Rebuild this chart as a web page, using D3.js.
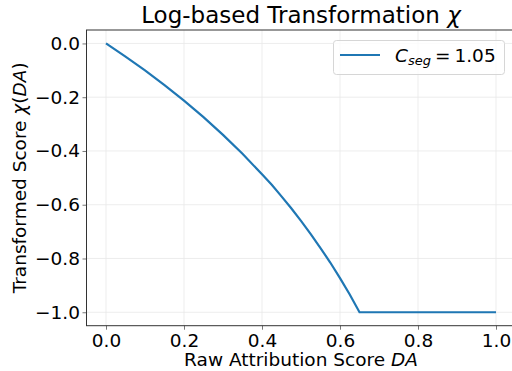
<!DOCTYPE html>
<html>
<head>
<meta charset="utf-8">
<script src="https://cdn.jsdelivr.net/npm/d3@7"></script>
<style>
  body { margin: 0; background: #fff; }
  text { font-family: "DejaVu Sans", sans-serif; fill: #000; }
</style>
</head>
<body>
<svg width="512" height="371"></svg>
<script>
// values
var rawScore = [0, 0.05, 0.1, 0.15, 0.2, 0.25, 0.3, 0.35, 0.4, 0.425, 0.45, 0.475, 0.5, 0.525, 0.55, 0.575, 0.6, 0.625, 0.65, 0.7, 0.8, 0.9, 1.0];
var transformed = [0, -0.049, -0.100, -0.155, -0.213, -0.274, -0.340, -0.410, -0.487, -0.526, -0.569, -0.613, -0.660, -0.709, -0.761, -0.815, -0.873, -0.934, -1.0, -1.0, -1.0, -1.0, -1.0];
var xTicks = [0.0, 0.2, 0.4, 0.6, 0.8, 1.0];
var yTicks = [0.0, -0.2, -0.4, -0.6, -0.8, -1.0];
var legendLabel = "C_seg = 1.05";

var svg = d3.select("svg");
var pLeft = 86.5, pRight = 515.5, pTop = 30, pBottom = 325.7;
var fs = 18.5;

var x = d3.scaleLinear().domain([-0.05, 1.05]).range([pLeft, pRight]);
var y = d3.scaleLinear().domain([-1.05, 0.05]).range([pBottom, pTop]);

var fmt = function(d) { return d3.format(".1f")(d).replace("-", "\u2212"); };

// grid
var grid = svg.append("g");
grid.selectAll(".gx").data(xTicks).enter().append("line")
    .attr("x1", function(d) { return x(d); }).attr("x2", function(d) { return x(d); })
    .attr("y1", pTop).attr("y2", pBottom)
    .attr("stroke", "#e8e8e8").attr("stroke-width", 0.8);
grid.selectAll(".gy").data(yTicks).enter().append("line")
    .attr("y1", function(d) { return y(d); }).attr("y2", function(d) { return y(d); })
    .attr("x1", pLeft).attr("x2", pRight)
    .attr("stroke", "#e8e8e8").attr("stroke-width", 0.8);

// axes
var xAxis = svg.append("g")
    .attr("transform", "translate(0," + pBottom + ")")
    .call(d3.axisBottom(x).tickValues(xTicks).tickFormat(fmt).tickSizeOuter(0).tickSize(4).tickPadding(4));
var yAxis = svg.append("g")
    .attr("transform", "translate(" + pLeft + ",0)")
    .call(d3.axisLeft(y).tickValues(yTicks).tickFormat(fmt).tickSizeOuter(0).tickSize(4).tickPadding(2.5));
[xAxis, yAxis].forEach(function(a) {
    a.select(".domain").remove();
    a.selectAll("text").attr("font-size", fs).attr("font-family", "DejaVu Sans");
    a.selectAll(".tick line").attr("stroke", "#555").attr("stroke-width", 0.8);
});

// spines
svg.append("rect")
    .attr("x", pLeft).attr("y", pTop)
    .attr("width", pRight - pLeft).attr("height", pBottom - pTop)
    .attr("fill", "none").attr("stroke", "#333").attr("stroke-width", 1);

// curve
var line = d3.line()
    .x(function(d, i) { return x(rawScore[i]); })
    .y(function(d) { return y(d); });
svg.append("path")
    .datum(transformed)
    .attr("d", line)
    .attr("fill", "none")
    .attr("stroke", "#1f77b4")
    .attr("stroke-width", 2.2);

// title
var title = svg.append("text")
    .attr("x", (pLeft + pRight) / 2).attr("y", 23)
    .attr("text-anchor", "middle").attr("font-size", 23);
title.append("tspan").text("Log-based Transformation ");
title.append("tspan").attr("font-style", "italic").text("\u03c7");

// x label
var xl = svg.append("text")
    .attr("x", (pLeft + pRight) / 2).attr("y", 366)
    .attr("text-anchor", "middle").attr("font-size", fs);
xl.append("tspan").text("Raw Attribution Score ");
xl.append("tspan").attr("font-style", "italic").text("DA");

// y label
var yl = svg.append("text")
    .attr("transform", "translate(25.5," + (pTop + pBottom) / 2 + ") rotate(-90)")
    .attr("text-anchor", "middle").attr("font-size", fs);
yl.append("tspan").text("Transformed Score ");
yl.append("tspan").attr("font-style", "italic").text("\u03c7");
yl.append("tspan").text("(");
yl.append("tspan").attr("font-style", "italic").text("DA");
yl.append("tspan").text(")");

// legend
var lg = svg.append("g");
lg.append("rect")
    .attr("x", 333.5).attr("y", 40.5).attr("width", 171).attr("height", 34)
    .attr("rx", 3).attr("fill", "#fff").attr("fill-opacity", 0.8)
    .attr("stroke", "#d6d6d6").attr("stroke-width", 1);
lg.append("line")
    .attr("x1", 340).attr("x2", 380).attr("y1", 55).attr("y2", 55)
    .attr("stroke", "#1f77b4").attr("stroke-width", 2.2);
var parts = legendLabel.split(/[_ ]/);
var lt = lg.append("text").attr("x", 395).attr("y", 62).attr("font-size", fs);
lt.append("tspan").attr("font-style", "italic").text(parts[0]);
lt.append("tspan").attr("font-style", "italic").attr("font-size", 13).attr("dy", 3).text(parts[1]);
lt.append("tspan").attr("dy", -3).attr("dx", 4).text(parts[2]);
lt.append("tspan").attr("dx", 4).text(parts[3]);
</script>
</body>
</html>
